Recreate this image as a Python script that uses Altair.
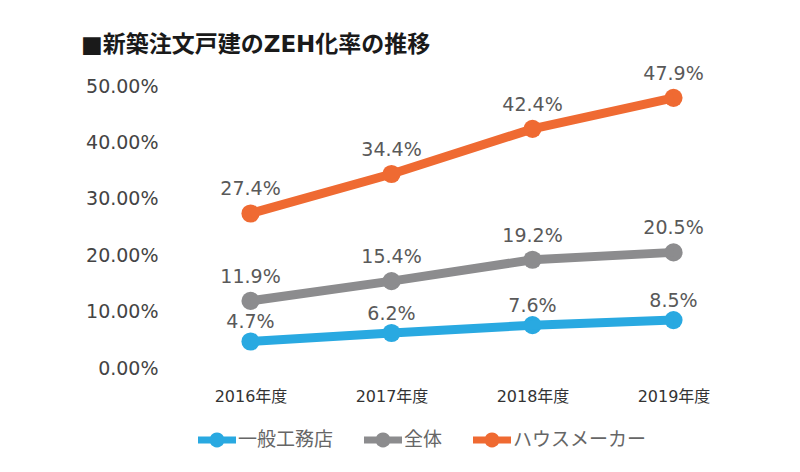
import altair as alt
import pandas as pd

years = ["2016年度", "2017年度", "2018年度", "2019年度"]
series_names = ["一般工務店", "全体", "ハウスメーカー"]
koumuten = [0.047, 0.062, 0.076, 0.085]
zentai = [0.119, 0.154, 0.192, 0.205]
house_maker = [0.274, 0.344, 0.424, 0.479]
colors = ["#29A9E1", "#8C8C8E", "#EF6A32"]
y_ticks = [0.0, 0.1, 0.2, 0.3, 0.4, 0.5]

rows = []
for name, vals in zip(series_names, [koumuten, zentai, house_maker]):
    for yr, v in zip(years, vals):
        rows.append({"year": yr, "series": name, "value": v})
df = pd.DataFrame(rows)

FONT = "DejaVu Sans, Noto Sans CJK JP, sans-serif"

# legend symbol: line with a dot in the middle (unit coordinates)
sym = ("M-1,-0.19 L-0.35,-0.19 A0.4,0.4 0 0,1 0.35,-0.19 L1,-0.19 L1,0.19 "
       "L0.35,0.19 A0.4,0.4 0 0,1 -0.35,0.19 L-1,0.19 Z")

x_enc = alt.X("year:N", sort=years, scale=alt.Scale(type="point", padding=0.5),
              axis=alt.Axis(title=None, labelAngle=0, domain=False, ticks=False,
                            grid=False, labelFontSize=16, labelColor="#333333",
                            labelPadding=20, labelFont=FONT))
y_enc = alt.Y("value:Q", scale=alt.Scale(domain=[0, 0.5], nice=False),
              axis=alt.Axis(title=None, values=y_ticks, format=".2%", domain=False,
                            ticks=False, grid=False, labelFontSize=19,
                            labelColor="#444444", labelPadding=22, labelFont=FONT))
color_scale = alt.Scale(domain=series_names, range=colors)
legend = alt.Legend(title=None, orient="none", direction="horizontal",
                    columns=3, legendX=18, legendY=335,
                    symbolType=sym, symbolSize=1444, symbolStrokeWidth=0,
                    symbolOpacity=1, labelFontSize=19,
                    labelColor="#666666", labelFont=FONT,
                    labelOffset=2, columnPadding=30)
color_enc = alt.Color("series:N", scale=color_scale, legend=legend)

base = alt.Chart(df)

lines = base.mark_line(strokeWidth=9).encode(x=x_enc, y=y_enc, color=color_enc)
points = base.mark_point(filled=True, size=330, opacity=1).encode(
    x=x_enc, y=y_enc, color=color_enc)
labels_other = base.transform_filter(alt.datum.series != "一般工務店").mark_text(
    fontSize=19, color="#595959", dy=-24, font=FONT
).encode(x=x_enc, y=y_enc, text=alt.Text("value:Q", format=".1%"))
labels_blue = base.transform_filter(alt.datum.series == "一般工務店").mark_text(
    fontSize=19, color="#595959", dy=-19, font=FONT
).encode(x=x_enc, y=y_enc, text=alt.Text("value:Q", format=".1%"))

chart = alt.layer(points, lines, labels_other, labels_blue).properties(
    width=564, height=282,
    title=alt.TitleParams("■新築注文戸建のZEH化率の推移", anchor="start", frame="group",
                          dx=-99, offset=8, fontSize=23, fontWeight="bold",
                          color="#1a1a1a", font=FONT),
    autosize=alt.AutoSizeParams(type="none"),
    padding={"left": 180, "top": 86, "right": 56, "bottom": 104},
    background="white",
).configure_view(stroke=None, strokeWidth=0)

chart.save("out.html", embed_options={"renderer": "svg", "actions": False})
